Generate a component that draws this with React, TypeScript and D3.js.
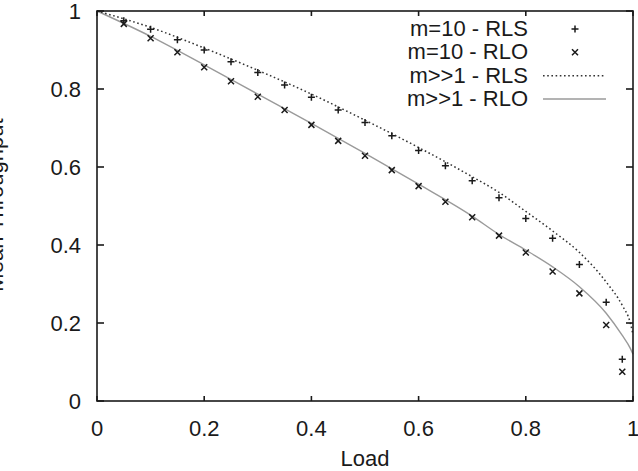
import React, { useEffect, useRef } from "react";
import * as d3 from "d3";

// simulation points (m = 10)
const loadSim = [0.05, 0.1, 0.15, 0.2, 0.25, 0.3, 0.35, 0.4, 0.45, 0.5, 0.55, 0.6, 0.65, 0.7, 0.75, 0.8, 0.85, 0.9, 0.95, 0.98];
const rlsSim = [0.975, 0.953, 0.926, 0.9, 0.87, 0.842, 0.81, 0.779, 0.746, 0.714, 0.68, 0.642, 0.603, 0.565, 0.521, 0.468, 0.417, 0.35, 0.253, 0.107];
const rloSim = [0.967, 0.93, 0.894, 0.856, 0.82, 0.78, 0.746, 0.708, 0.667, 0.629, 0.592, 0.551, 0.511, 0.471, 0.424, 0.381, 0.332, 0.276, 0.195, 0.075];

// asymptotic curves (m >> 1)
const loadCurve = [0, 0.1, 0.2, 0.3, 0.4, 0.5, 0.6, 0.7, 0.75, 0.8, 0.85, 0.9, 0.95, 0.98, 0.995, 1.0];
const rlsCurve = [1.0, 0.958, 0.905, 0.848, 0.787, 0.72, 0.65, 0.575, 0.535, 0.486, 0.436, 0.381, 0.305, 0.245, 0.2, 0.17];
const rloCurve = [1.0, 0.935, 0.862, 0.787, 0.712, 0.635, 0.556, 0.474, 0.427, 0.387, 0.344, 0.293, 0.225, 0.168, 0.135, 0.12];

const xTicks = [0, 0.2, 0.4, 0.6, 0.8, 1];
const yTicks = [0, 0.2, 0.4, 0.6, 0.8, 1];
const legendLabels = ["m=10 - RLS", "m=10 - RLO", "m>>1 - RLS", "m>>1 - RLO"];

const W = 638;
const H = 471;
const FONT = "'Liberation Sans', Arial, Helvetica, sans-serif";

export default function App() {
    const svgRef = useRef<SVGSVGElement | null>(null);

    useEffect(() => {
        const svg = d3.select(svgRef.current);
        svg.selectAll("*").remove();

        const margin = { top: 11, right: 5, bottom: 70, left: 97 };
        const x = d3.scaleLinear().domain([0, 1]).range([margin.left, W - margin.right]);
        const y = d3.scaleLinear().domain([0, 1]).range([H - margin.bottom, margin.top]);
        const ink = "#1a1a1a";
        const dotted = { stroke: "#333", width: 1.5, dash: "1.6,2.6" };
        const grey = { stroke: "#9a9a9a", width: 1.4 };

        svg.append("rect").attr("width", W).attr("height", H).attr("fill", "#fff");

        // === curves ===
        const lineGen = d3.line<number>()
            .x((d, i) => x(loadCurve[i]))
            .y((d) => y(d))
            .curve(d3.curveMonotoneX);

        svg.append("path")
            .datum(rloCurve)
            .attr("fill", "none")
            .attr("stroke", grey.stroke)
            .attr("stroke-width", grey.width)
            .attr("d", lineGen);

        svg.append("path")
            .datum(rlsCurve)
            .attr("fill", "none")
            .attr("stroke", dotted.stroke)
            .attr("stroke-width", dotted.width)
            .attr("stroke-dasharray", dotted.dash)
            .attr("d", lineGen);

        // === markers ===
        const plus = (g: any, cx: number, cy: number) => {
            g.append("path")
                .attr("d", `M${cx - 3.5},${cy}H${cx + 3.5}M${cx},${cy - 3.5}V${cy + 3.5}`)
                .attr("stroke", ink).attr("stroke-width", 1.5).attr("fill", "none");
        };
        const cross = (g: any, cx: number, cy: number) => {
            g.append("path")
                .attr("d", `M${cx - 3},${cy - 3}L${cx + 3},${cy + 3}M${cx - 3},${cy + 3}L${cx + 3},${cy - 3}`)
                .attr("stroke", ink).attr("stroke-width", 1.5).attr("fill", "none");
        };

        const gm = svg.append("g");
        loadSim.forEach((l, i) => {
            plus(gm, x(l), y(rlsSim[i]));
            cross(gm, x(l), y(rloSim[i]));
        });

        // === frame and ticks ===
        const frame = svg.append("g").attr("stroke", ink).attr("stroke-width", 1.6).attr("fill", "none");
        xTicks.forEach((t) => {
            frame.append("line").attr("x1", x(t)).attr("x2", x(t)).attr("y1", y(0)).attr("y2", y(0) - 5);
            frame.append("line").attr("x1", x(t)).attr("x2", x(t)).attr("y1", y(1)).attr("y2", y(1) + 5);
        });
        yTicks.forEach((t) => {
            frame.append("line").attr("x1", x(0)).attr("x2", x(0) + 7).attr("y1", y(t)).attr("y2", y(t));
            frame.append("line").attr("x1", x(1)).attr("x2", x(1) - 7).attr("y1", y(t)).attr("y2", y(t));
        });
        frame.append("rect")
            .attr("x", x(0)).attr("y", y(1))
            .attr("width", x(1) - x(0)).attr("height", y(0) - y(1));

        // === tick labels ===
        const txt = svg.append("g").attr("font-family", FONT).attr("font-size", 22).attr("fill", ink);
        xTicks.forEach((t) => {
            txt.append("text").attr("x", x(t)).attr("y", 436).attr("text-anchor", "middle").text(d3.format("")(t));
        });
        yTicks.forEach((t) => {
            txt.append("text").attr("x", x(0) - 16).attr("y", y(t) + 8).attr("text-anchor", "end").text(d3.format("")(t));
        });

        // === axis titles (y title runs off the left edge, as in the original) ===
        txt.append("text").attr("x", (x(0) + x(1)) / 2).attr("y", 466).attr("text-anchor", "middle").text("Load");
        txt.append("text")
            .attr("transform", `translate(3,${205}) rotate(-90)`)
            .attr("text-anchor", "middle")
            .text("Mean Throughput");

        // === legend ===
        const rowY = [36, 59.3, 82.7, 106];
        legendLabels.forEach((lab, i) => {
            txt.append("text").attr("x", 528).attr("y", rowY[i]).attr("text-anchor", "end").text(lab);
        });
        plus(gm, 575, rowY[0] - 7);
        cross(gm, 575, rowY[1] - 7);
        svg.append("line").attr("x1", 543).attr("x2", 605).attr("y1", rowY[2] - 7).attr("y2", rowY[2] - 7)
            .attr("stroke", dotted.stroke).attr("stroke-width", dotted.width).attr("stroke-dasharray", dotted.dash);
        svg.append("line").attr("x1", 543).attr("x2", 606).attr("y1", rowY[3] - 7).attr("y2", rowY[3] - 7)
            .attr("stroke", grey.stroke).attr("stroke-width", grey.width);
    }, []);

    return (
        <svg ref={svgRef} width={W} height={H} style={{ position: "absolute", left: 0, top: 0 }}></svg>
    );
}
